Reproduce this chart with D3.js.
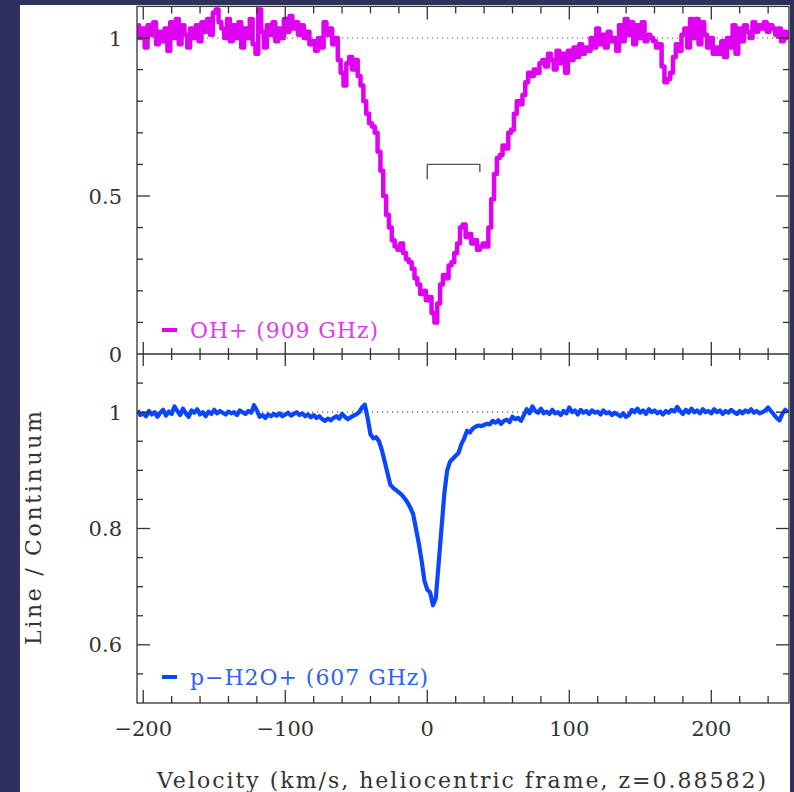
<!DOCTYPE html>
<html>
<head>
<meta charset="utf-8">
<script src="https://cdn.jsdelivr.net/npm/d3@7"></script>
<style>
  body { margin: 0; background: #30305e; }
  svg { display: block; }
</style>
</head>
<body>
<svg id="chart" width="794" height="792"></svg>
<script>
// velocity channels (km/s), 2 km/s wide
var vStart = -204;
var vStep = 2;

// OH+ 909 GHz, line / continuum
var ohFlux = [
  1.04, 1.00, 1.03, 0.97, 1.04, 1.01, 1.05, 0.98, 1.02, 0.99,
  1.03, 0.96, 1.05, 1.00, 1.06, 0.98, 1.04, 1.01, 0.97, 1.03,
  1.00, 1.04, 0.99, 1.05, 1.02, 1.06, 1.01, 1.08, 1.09, 1.05,
  1.03, 1.00, 1.06, 0.99, 1.04, 1.00, 1.05, 0.97, 1.03, 1.00,
  1.06, 0.98, 0.95, 1.09, 1.02, 0.97, 1.04, 1.01, 1.05, 0.99,
  1.03, 1.00, 1.06, 1.02, 1.07, 1.03, 1.05, 1.01, 1.04, 1.00,
  1.02, 0.98, 0.99, 0.96, 1.00, 0.97, 1.05, 1.01, 1.03, 0.98,
  1.00, 0.93, 0.89, 0.85, 0.92, 0.94, 0.90, 0.93, 0.88, 0.85,
  0.80, 0.76, 0.73, 0.72, 0.70, 0.64, 0.58, 0.50, 0.44, 0.40,
  0.36, 0.34, 0.33, 0.35, 0.32, 0.30, 0.29, 0.27, 0.24, 0.22,
  0.19, 0.20, 0.17, 0.18, 0.13, 0.10, 0.16, 0.22, 0.25, 0.24,
  0.28, 0.29, 0.32, 0.35, 0.40, 0.41, 0.37, 0.38, 0.35, 0.36,
  0.33, 0.34, 0.35, 0.34, 0.40, 0.49, 0.57, 0.62, 0.63, 0.66,
  0.65, 0.70, 0.71, 0.76, 0.80, 0.79, 0.82, 0.86, 0.89, 0.88,
  0.90, 0.89, 0.92, 0.93, 0.91, 0.95, 0.93, 0.90, 0.96, 0.92,
  0.95, 0.89, 0.96, 0.93, 0.97, 0.94, 0.98, 0.95, 0.97, 0.96,
  1.00, 0.97, 1.03, 0.98, 1.01, 0.97, 1.02, 0.99, 1.00, 0.96,
  1.04, 0.99, 1.06, 1.01, 1.05, 0.98, 1.04, 1.00, 1.05, 0.99,
  1.01, 1.00, 0.99, 0.97, 0.98, 0.91, 0.86, 0.87, 0.89, 0.94,
  0.98, 0.96, 1.01, 1.03, 0.97, 1.06, 1.00, 1.06, 0.98, 1.05,
  1.01, 0.97, 1.00, 0.95, 0.97, 0.95, 0.99, 0.94, 1.00, 0.97,
  1.04, 0.95, 1.03, 0.99, 1.04, 1.02, 1.00, 1.05, 1.02, 1.04,
  1.03, 1.05, 1.02, 1.04, 1.03, 1.01, 1.03, 0.99, 1.02, 1.00
];

// p-H2O+ 607 GHz, line / continuum
var h2oFlux = [
  1.003, 0.995, 0.998, 0.993, 1.002, 0.996, 1.000, 0.992, 0.999, 1.004,
  0.994, 1.001, 0.997, 1.010, 1.002, 0.995, 1.006, 0.998, 0.992, 1.003,
  0.999, 1.005, 0.996, 1.000, 0.993, 1.001, 0.997, 1.004, 0.998, 1.002,
  0.999, 0.996, 1.001, 0.998, 1.000, 0.995, 1.003, 1.000, 0.997, 1.002,
  0.999, 1.012, 1.003, 0.992, 0.995, 0.990, 0.996, 0.993, 0.997, 0.994,
  0.998, 0.993, 0.996, 0.999, 0.994, 0.997, 1.000, 0.995, 0.998, 0.993,
  0.996, 0.991, 0.995, 0.990, 0.993, 0.988, 0.985, 0.989, 0.986, 0.990,
  0.993, 0.989, 0.997, 0.992, 0.988, 0.991, 0.994, 0.996, 1.000, 1.008,
  1.013, 0.990, 0.962, 0.955, 0.957, 0.950, 0.935, 0.915, 0.895, 0.875,
  0.870, 0.866, 0.862, 0.858, 0.852, 0.845, 0.836, 0.825, 0.800, 0.775,
  0.745, 0.710, 0.695, 0.690, 0.668, 0.680, 0.740, 0.800, 0.860, 0.900,
  0.915, 0.920, 0.925, 0.930, 0.945, 0.955, 0.968, 0.965, 0.972, 0.975,
  0.977, 0.976, 0.978, 0.980, 0.979, 0.985, 0.982, 0.986, 0.980, 0.985,
  0.987, 0.983, 0.992, 0.988, 0.990, 0.985, 0.995, 1.005, 0.998, 1.010,
  1.002, 0.999, 1.006, 0.998, 1.001, 0.997, 1.004, 0.998, 1.000, 0.995,
  1.002, 0.998, 1.008, 1.000, 1.003, 0.996, 1.004, 0.999, 1.002, 0.997,
  1.003, 0.999, 1.001, 0.996, 1.003, 0.998, 1.000, 0.995, 0.999, 0.996,
  0.993, 0.998, 0.992, 0.995, 1.004, 1.000, 1.006, 0.999, 1.003, 0.997,
  1.005, 1.000, 1.003, 0.998, 1.001, 0.996, 1.002, 0.999, 1.004, 1.001,
  1.009, 1.002, 0.997, 1.004, 0.999, 1.006, 1.000, 1.003, 0.998, 1.005,
  1.000, 1.002, 0.998, 1.005, 1.000, 1.003, 0.997, 1.002, 0.999, 1.004,
  1.000, 0.997, 1.002, 0.998, 1.003, 1.000, 1.005, 0.999, 1.002, 0.998,
  1.000, 1.003, 1.008, 1.002, 0.996, 0.990, 0.986, 0.997, 1.004, 1.000
];

// axis ticks
var xMajor = [-200, -100, 0, 100, 200];
var xLabels = ["\u2212200", "\u2212100", "0", "100", "200"];
var topMajor = [0, 0.5, 1];
var topLabels = ["0", "0.5", "1"];
var botMajor = [0.6, 0.8, 1];
var botLabels = ["0.6", "0.8", "1"];

// bracket marking the two OH+ components
var bracketV = [0, 37];
var bracketTop = 0.6;
var bracketFoot = [0.553, 0.576];

var legendTop = "OH+ (909 GHz)";
var legendBot = "p\u2212H2O+ (607 GHz)";

var magenta = "#e000f2";
var blue = "#0a46ff";
var ink = "#333";
var font = "'DejaVu Serif', serif";

// frame
var left = 137, right = 789;
var topY = 6.4, midY = 354, botY = 703;

var xScale = d3.scaleLinear().domain([-204.4, 254.7]).range([left, right]);
var yTop = d3.scaleLinear().domain([0, 1.1]).range([midY, topY]);
var yBot = d3.scaleLinear().domain([0.5, 1.1]).range([botY, midY]);

var svg = d3.select('#chart');

// page background
svg.append('rect').attr('width', 794).attr('height', 792).attr('fill', '#30305e');
svg.append('rect').attr('x', 20).attr('y', 5).attr('width', 770).attr('height', 787).attr('fill', '#ffffff');

var vel = ohFlux.map(function(d, i) { return vStart + i * vStep; });

svg.append('clipPath').attr('id', 'clipTop')
    .append('rect').attr('x', left).attr('y', topY).attr('width', right - left).attr('height', midY - topY);
svg.append('clipPath').attr('id', 'clipBot')
    .append('rect').attr('x', left).attr('y', midY).attr('width', right - left).attr('height', botY - midY);

// dotted continuum level
[yTop, yBot].forEach(function(s) {
    svg.append('line')
        .attr('x1', left).attr('x2', right)
        .attr('y1', s(1)).attr('y2', s(1))
        .attr('stroke', '#555')
        .attr('stroke-width', 1.2)
        .attr('stroke-dasharray', '1.2,3.8');
});

// spectra
var lineTop = d3.line()
    .x(function(d, i) { return xScale(vel[i]); })
    .y(function(d) { return yTop(d); })
    .curve(d3.curveStep);

var lineBot = d3.line()
    .x(function(d, i) { return xScale(vel[i]); })
    .y(function(d) { return yBot(d); });

svg.append('path')
    .attr('d', lineTop(ohFlux))
    .attr('clip-path', 'url(#clipTop)')
    .attr('fill', 'none')
    .attr('stroke', magenta)
    .attr('stroke-width', 4.5)
    .attr('stroke-linejoin', 'round');

svg.append('path')
    .attr('d', lineBot(h2oFlux))
    .attr('clip-path', 'url(#clipBot)')
    .attr('fill', 'none')
    .attr('stroke', blue)
    .attr('stroke-width', 4.2)
    .attr('stroke-linejoin', 'round');

// bracket
svg.append('path')
    .attr('d', 'M' + xScale(bracketV[0]) + ',' + yTop(bracketFoot[0]) +
               'V' + yTop(bracketTop) +
               'H' + xScale(bracketV[1]) +
               'V' + yTop(bracketFoot[1]))
    .attr('fill', 'none')
    .attr('stroke', '#555')
    .attr('stroke-width', 1.4);

// frame lines
var frame = svg.append('g').attr('stroke', ink).attr('stroke-width', 1.3).attr('fill', 'none');
frame.append('rect').attr('x', left).attr('y', topY).attr('width', right - left).attr('height', botY - topY);
frame.append('line').attr('x1', left).attr('x2', right).attr('y1', midY).attr('y2', midY);

// x ticks, every 20 km/s
var ticks = svg.append('g').attr('stroke', ink).attr('stroke-width', 1.3);
d3.range(-200, 255, 20).forEach(function(v) {
    var x = xScale(v);
    var major = xMajor.indexOf(v) >= 0;
    var len = major ? 13 : 7;
    ticks.append('line').attr('x1', x).attr('x2', x).attr('y1', topY).attr('y2', topY + len);
    ticks.append('line').attr('x1', x).attr('x2', x).attr('y1', midY - len + 1).attr('y2', midY + len - 1);
    ticks.append('line').attr('x1', x).attr('x2', x).attr('y1', botY).attr('y2', botY - len);
});

// y ticks
function yTicks(scale, from, to, step, majors) {
    d3.range(from, to + step / 2, step).forEach(function(t) {
        var y = scale(t);
        var major = majors.some(function(m) { return Math.abs(m - t) < 1e-6; });
        var len = major ? 13 : 6;
        ticks.append('line').attr('x1', left).attr('x2', left + len).attr('y1', y).attr('y2', y);
        ticks.append('line').attr('x1', right).attr('x2', right - len).attr('y1', y).attr('y2', y);
    });
}
yTicks(yTop, 0.1, 1.0, 0.1, topMajor);
yTicks(yBot, 0.55, 1.05, 0.05, botMajor);

// tick labels
var labels = svg.append('g')
    .attr('font-family', font)
    .attr('font-size', 21)
    .attr('fill', ink);

xMajor.forEach(function(v, i) {
    labels.append('text')
        .attr('x', xScale(v))
        .attr('y', 736)
        .attr('text-anchor', 'middle')
        .text(xLabels[i]);
});
topMajor.forEach(function(t, i) {
    labels.append('text')
        .attr('x', 122)
        .attr('y', yTop(t) + 7.5)
        .attr('text-anchor', 'end')
        .text(topLabels[i]);
});
botMajor.forEach(function(t, i) {
    labels.append('text')
        .attr('x', 122)
        .attr('y', yBot(t) + 7.5)
        .attr('text-anchor', 'end')
        .text(botLabels[i]);
});

// axis titles
svg.append('text')
    .attr('x', 157)
    .attr('y', 788)
    .attr('font-family', font)
    .attr('font-size', 22)
    .attr('fill', ink)
    .attr('textLength', 609)
    .attr('lengthAdjust', 'spacing')
    .text('Velocity (km/s, heliocentric frame, z=0.88582)');

svg.append('text')
    .attr('transform', 'translate(41,645) rotate(-90)')
    .attr('font-family', font)
    .attr('font-size', 22)
    .attr('fill', ink)
    .attr('textLength', 234)
    .attr('lengthAdjust', 'spacing')
    .text('Line / Continuum');

// legends
[[legendTop, magenta, '#dd3cef', 330, 188], [legendBot, blue, '#2f62f2', 677, 238]].forEach(function(l) {
    svg.append('line')
        .attr('x1', 162).attr('x2', 177)
        .attr('y1', l[3]).attr('y2', l[3])
        .attr('stroke', l[1])
        .attr('stroke-width', 4);
    svg.append('text')
        .attr('x', 190)
        .attr('y', l[3] + 8)
        .attr('font-family', font)
        .attr('font-size', 22)
        .attr('fill', l[2])
        .attr('textLength', l[4])
        .attr('lengthAdjust', 'spacing')
        .text(l[0]);
});
</script>
</body>
</html>
